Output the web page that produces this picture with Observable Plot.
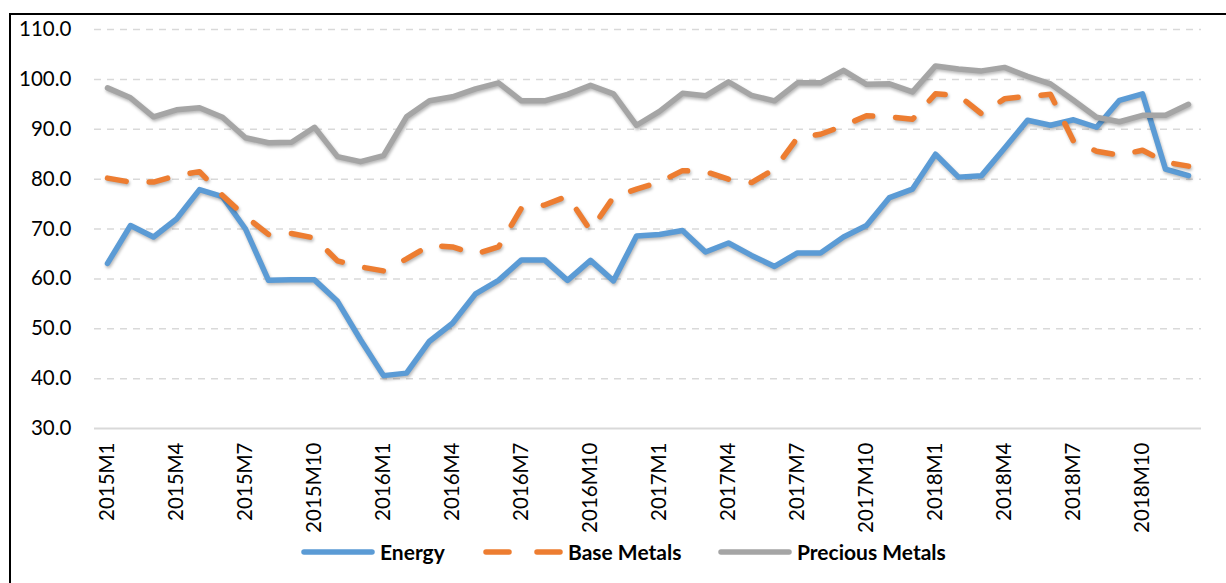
<!DOCTYPE html>
<html>
<head>
<meta charset="utf-8">
<script src="https://cdn.jsdelivr.net/npm/d3@7"></script>
<script src="https://cdn.jsdelivr.net/npm/@observablehq/plot@0.6"></script>
<style>
  body { margin: 0; background: #fff; font-family: Lato, "Open Sans", sans-serif; }
  #wrap { position: relative; width: 1226px; height: 583px; overflow: hidden; background: #fff; }
  #chart { position: absolute; left: 0; top: 0; }
  #frame { position: absolute; left: 9px; top: 13px; width: 1300px; height: 700px; border: 2.5px solid #000; box-sizing: border-box; pointer-events: none; }
  #legend { position: absolute; left: 0; top: 540px; width: 1226px; height: 24px; }
  .item { position: absolute; top: 0; height: 24px; display: flex; align-items: center; }
  .item span { font-weight: 700; font-size: 21px; color: #000; margin-left: 5px; line-height: 24px; }
</style>
</head>
<body>
<div id="wrap">
  <div id="chart"></div>
  <div id="legend"></div>
  <div id="frame"></div>
</div>
<script>
// ---- Data ----
const months = [
  "2015M1","2015M2","2015M3","2015M4","2015M5","2015M6","2015M7","2015M8","2015M9","2015M10","2015M11","2015M12",
  "2016M1","2016M2","2016M3","2016M4","2016M5","2016M6","2016M7","2016M8","2016M9","2016M10","2016M11","2016M12",
  "2017M1","2017M2","2017M3","2017M4","2017M5","2017M6","2017M7","2017M8","2017M9","2017M10","2017M11","2017M12",
  "2018M1","2018M2","2018M3","2018M4","2018M5","2018M6","2018M7","2018M8","2018M9","2018M10","2018M11","2018M12"
];
const energy = [
  63.1, 70.7, 68.4, 72.0, 77.9, 76.5, 70.0, 59.7, 59.8, 59.8, 55.5, 47.8,
  40.6, 41.1, 47.5, 51.1, 57.0, 59.7, 63.8, 63.8, 59.7, 63.7, 59.6, 68.6,
  68.9, 69.7, 65.4, 67.2, 64.7, 62.5, 65.2, 65.2, 68.4, 70.7, 76.3, 78.0,
  85.0, 80.4, 80.7, 86.2, 91.8, 90.8, 91.9, 90.4, 95.8, 97.1, 82.0, 80.7
];
const baseMetals = [
  80.2, 79.4, 79.4, 80.7, 81.5, 76.7, 72.5, 68.9, 69.1, 68.2, 63.6, 62.4,
  61.6, 64.0, 66.7, 66.4, 65.0, 66.4, 74.2, 74.8, 76.6, 69.7, 76.4, 78.0,
  79.4, 81.7, 81.5, 80.0, 79.3, 82.0, 88.3, 89.0, 90.7, 92.7, 92.5, 92.0,
  97.1, 96.8, 93.1, 96.1, 96.6, 97.0, 87.6, 85.6, 84.8, 85.8, 83.4, 82.6
];
const preciousMetals = [
  98.3, 96.3, 92.5, 93.9, 94.3, 92.4, 88.3, 87.3, 87.4, 90.4, 84.5, 83.5,
  84.7, 92.5, 95.7, 96.5, 98.1, 99.3, 95.7, 95.7, 97.0, 98.8, 97.1, 90.8,
  93.6, 97.2, 96.7, 99.5, 96.8, 95.7, 99.3, 99.3, 101.8, 99.0, 99.1, 97.5,
  102.7, 102.1, 101.7, 102.4, 100.6, 99.1, 95.8, 92.4, 91.5, 92.8, 92.8, 95.0
];
const tickLabels = [
  "2015M1","2015M4","2015M7","2015M10","2016M1","2016M4","2016M7","2016M10",
  "2017M1","2017M4","2017M7","2017M10","2018M1","2018M4","2018M7","2018M10"
];
const yTicks = [30, 40, 50, 60, 70, 80, 90, 100, 110];
const seriesNames = ["Energy", "Base Metals", "Precious Metals"];
const seriesColors = ["#5B9BD5", "#ED7D31", "#A5A5A5"];

// ---- Build tables ----
const toRows = (vals) => months.map((m, i) => ({month: m, value: vals[i]}));
const energyRows = toRows(energy);
const baseRows = toRows(baseMetals);
const preciousRows = toRows(preciousMetals);

const lineStyle = {x: "month", y: "value", strokeWidth: 5.5, strokeLinejoin: "round"};

const chart = Plot.plot({
  width: 1226,
  height: 540,
  marginLeft: 94,
  marginRight: 25,
  marginTop: 29,
  marginBottom: 112,
  style: {fontFamily: "Lato, 'Open Sans', sans-serif", fontSize: "20.5px", color: "#000", background: "transparent", overflow: "visible"},
  x: {type: "point", domain: months, padding: 0.5, label: null},
  y: {domain: [30, 110], label: null},
  marks: [
    Plot.ruleY(yTicks.filter(t => t > 30), {stroke: "#d9d9d9", strokeWidth: 1.5, strokeDasharray: "7,6"}),
    Plot.ruleY([30], {stroke: "#d9d9d9", strokeWidth: 2}),
    Plot.axisY({ticks: yTicks, tickFormat: d => d.toFixed(1), tickSize: 0, tickPadding: 23, label: null, fill: "#000"}),
    Plot.axisX({ticks: tickLabels, tickRotate: -90, tickSize: 0, tickPadding: 14, label: null, fill: "#000"}),
    Plot.line(energyRows, {...lineStyle, stroke: seriesColors[0], strokeLinecap: "round"}),
    Plot.line(baseRows, {...lineStyle, stroke: seriesColors[1], strokeLinecap: "round", strokeDasharray: "19,23"}),
    Plot.line(preciousRows, {...lineStyle, stroke: seriesColors[2], strokeLinecap: "round"})
  ]
});
chart.querySelectorAll('g[aria-label="line"]').forEach(g => {
  g.style.filter = "drop-shadow(1.5px 2.5px 1.5px rgba(0,0,0,0.28))";
});
document.getElementById("chart").appendChild(chart);

// ---- Legend ----
const legend = document.getElementById("legend");
const legendLeft = [301, 483, 718];
const legendSwatchW = [74, 80, 74];
seriesNames.forEach((name, i) => {
  const item = document.createElement("div");
  item.className = "item";
  item.style.left = legendLeft[i] + "px";
  const w = legendSwatchW[i];
  const dash = i === 1 ? ' stroke-dasharray="23,28"' : '';
  const x2 = i === 1 ? w - 3 : w - 3;
  item.innerHTML = `<svg width="${w}" height="24"><line x1="3" y1="12" x2="${x2}" y2="12" stroke="${seriesColors[i]}" stroke-width="5.5" stroke-linecap="round"${dash}/></svg><span>${name}</span>`;
  legend.appendChild(item);
});
</script>
</body>
</html>
